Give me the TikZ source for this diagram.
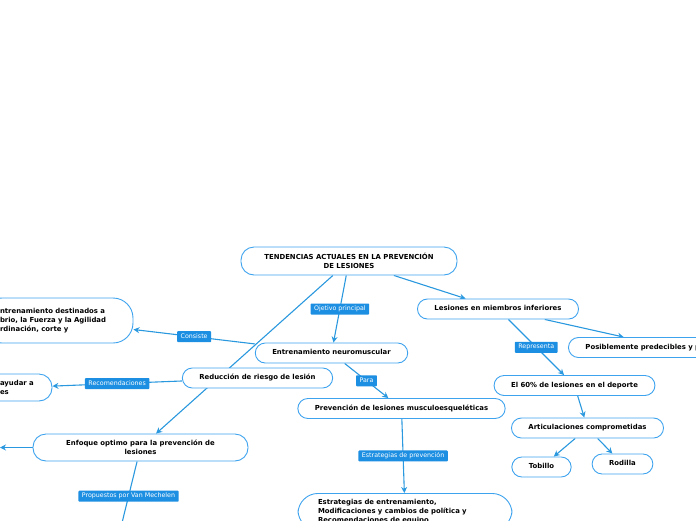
\documentclass[tikz,border=0pt]{standalone}
\usepackage{fontspec}
\setmainfont{DejaVu Sans}
\usetikzlibrary{arrows.meta,backgrounds}
\definecolor{mmline}{RGB}{42,152,222}
\definecolor{mmborder}{RGB}{62,163,238}
\definecolor{mmlabel}{RGB}{29,143,226}
\tikzset{
  topic/.style={draw=mmborder, line width=0.9pt, fill=white, rounded corners=10pt,
    inner xsep=17pt, inner ysep=0pt, minimum height=20pt,
    font=\bfseries\fontsize{6.9}{9}\selectfont},
  oneline/.style={text height=5pt, text depth=1.5pt},
  link/.style={draw=mmline, line width=1.1pt, -{Stealth[length=6pt,width=6pt]}},
  tag/.style={fill=mmlabel, text=white, inner xsep=3.5pt, inner ysep=2.6pt,
    text height=4.5pt, text depth=1.3pt, rounded corners=0.8pt,
    font=\fontsize{6.3}{7}\selectfont}
}
\begin{document}
\begin{tikzpicture}[x=1pt,y=-1pt]
   \useasboundingbox (0,0) rectangle (696,520);
   \clip (0,0) rectangle (696,520);
   % central topic
   \node[topic, align=center, minimum width=216pt, minimum height=28pt, rounded corners=13pt]
        (tendencias) at (349,261) {TENDENCIAS ACTUALES EN LA PREVENCIÓN\\DE LESIONES};
   % right branch
   \node[topic, oneline] (lesiones)       at (498,309)   {Lesiones en miembros inferiores};
   \node[topic, oneline, anchor=west, text width=170pt, align=left] (posibles) at (568,347.5)
        {Posiblemente predecibles y p};
   \node[topic, oneline] (sesenta)        at (574.5,385.5) {El 60\% de lesiones en el deporte};
   \node[topic, oneline] (articulaciones) at (587.5,428) {Articulaciones comprometidas};
   \node[topic, oneline] (tobillo)        at (541.5,467) {Tobillo};
   \node[topic, oneline] (rodilla)        at (622.5,464) {Rodilla};
   % middle branch
   \node[topic, oneline] (neuro)          at (331.5,353) {Entrenamiento neuromuscular};
   \node[topic, oneline] (musculo)        at (401.5,408.5) {Prevención de lesiones musculoesqueléticas};
   \node[topic, anchor=north, text width=174pt, align=left, inner xsep=20pt, inner ysep=6pt,
         rounded corners=20pt] (estrategias) at (405,493)
        {Estrategias de entrenamiento,\\Modificaciones y cambios de política y\\Recomendaciones de equipo};
   % left branch
   \node[topic, oneline] (reduccion)      at (257.5,378) {Reducción de riesgo de lesión};
   \node[topic, align=center, minimum width=215pt, minimum height=27pt, rounded corners=13pt]
        (enfoque) at (140.5,447.5) {Enfoque optimo para la prevención de\\lesiones};
   \node[topic, text width=115pt, align=left, inner xsep=18pt, minimum height=45pt,
         rounded corners=20pt] (programas) at (57.5,320.5)
        {ntrenamiento destinados a\\brio, la Fuerza y la Agilidad\\rdinación, corte y};
   \node[topic, text width=34pt, align=left, inner xsep=18pt, minimum height=27pt,
         rounded corners=13pt] (ayudar) at (17,387.5) {ayudar a\\es};
   \coordinate (enfoqueizq) at (0,447.5);
   \coordinate (mechelen)   at (120,531);
   % connectors behind the topics
   \begin{pgfonlayer}{background}
   \clip (0,0) rectangle (696,520);
   \draw[link] (tendencias) -- (lesiones);
   \draw[link] (tendencias) -- node[tag] {Ojetivo principal} (neuro);
   \draw[link] (tendencias) -- (enfoque);
   \draw[link] (lesiones) -- (posibles);
   \draw[link] (lesiones) -- node[tag] {Representa} (sesenta);
   \draw[link] (sesenta) -- (articulaciones);
   \draw[link] (articulaciones) -- (tobillo);
   \draw[link] (articulaciones) -- (rodilla);
   \draw[link] (neuro) -- node[tag] {Consiste} (programas);
   \draw[link] (neuro) -- node[tag] {Para} (musculo);
   \draw[link] (musculo) -- node[tag] {Estrategias de prevención} (estrategias);
   \draw[link] (reduccion) -- node[tag] {Recomendaciones} (ayudar);
   \draw[link] (enfoque) -- (enfoqueizq);
   \draw[link] (enfoque) -- node[tag] {Propuestos por Van Mechelen} (mechelen);
   \end{pgfonlayer}
\end{tikzpicture}
\end{document}
